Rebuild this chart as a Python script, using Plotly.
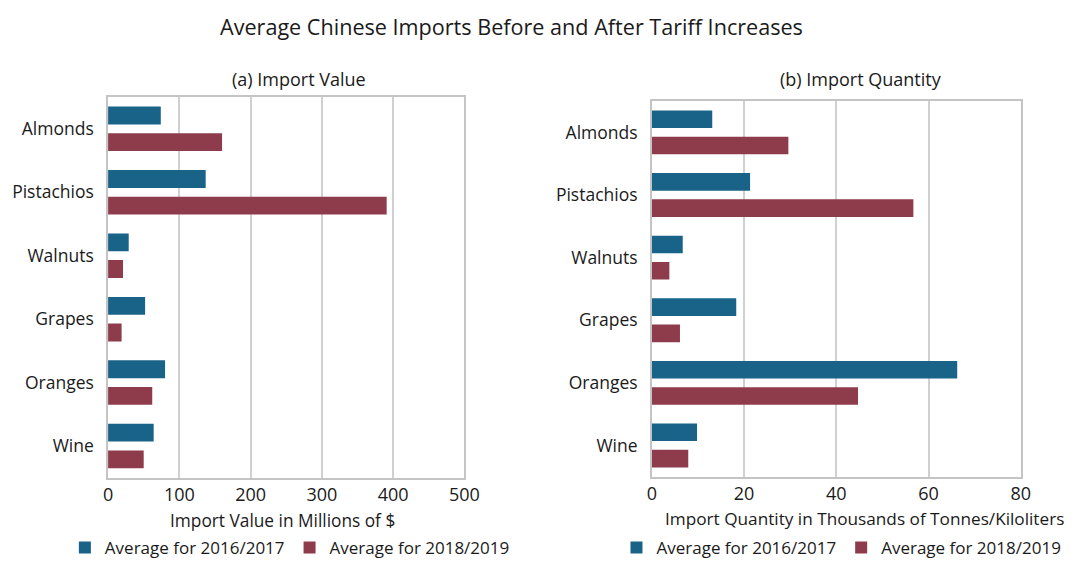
import plotly.graph_objects as go

# Commodity categories (top to bottom)
categories = ["Almonds", "Pistachios", "Walnuts", "Grapes", "Oranges", "Wine"]

# (a) Import value, millions of US dollars
value_2016_2017 = [74, 137, 29, 52, 80, 64]
value_2018_2019 = [160, 391, 21, 19, 62, 50]

# (b) Import quantity, thousands of tonnes / kiloliters
qty_2016_2017 = [13.1, 21.3, 6.7, 18.3, 66.2, 9.8]
qty_2018_2019 = [29.6, 56.7, 3.8, 6.1, 44.7, 7.9]

series_names = ["Average for 2016/2017", "Average for 2018/2019"]
value_ticks = [0, 100, 200, 300, 400, 500]
qty_ticks = [0, 20, 40, 60, 80]

BLUE = "#1a6388"
RED = "#8e3b4c"
GRID = "#d0d0d0"
TEXT = "#1a1a1a"
FONT = "Open Sans"

W, H = 1082, 566


def px_x(x):
    return x / W


def px_y(y):
    return 1 - y / H


fig = go.Figure()

# Left panel: import value
fig.add_trace(go.Bar(y=categories, x=value_2016_2017, orientation="h", name=series_names[0],
                     marker=dict(color=BLUE, line=dict(width=0)), xaxis="x", yaxis="y", legend="legend"))
fig.add_trace(go.Bar(y=categories, x=value_2018_2019, orientation="h", name=series_names[1],
                     marker=dict(color=RED, line=dict(width=0)), xaxis="x", yaxis="y", legend="legend"))

# Right panel: import quantity
fig.add_trace(go.Bar(y=categories, x=qty_2016_2017, orientation="h", name=series_names[0],
                     marker=dict(color=BLUE, line=dict(width=0)), xaxis="x2", yaxis="y2", legend="legend2"))
fig.add_trace(go.Bar(y=categories, x=qty_2018_2019, orientation="h", name=series_names[1],
                     marker=dict(color=RED, line=dict(width=0)), xaxis="x2", yaxis="y2", legend="legend2"))

xaxis_common = dict(
    showgrid=True, gridcolor=GRID, gridwidth=1.5,
    showline=True, linecolor="#c4c4c4", linewidth=1.5, mirror=True,
    zeroline=False, ticks="", ticklabelstandoff=0,
    tickfont=dict(family=FONT, size=18, color=TEXT),
    fixedrange=True,
)
yaxis_common = dict(
    type="category", categoryorder="array", categoryarray=categories,
    autorange="reversed", showgrid=False,
    showline=True, linecolor="#c4c4c4", linewidth=1.5, mirror=True,
    ticks="", ticklabelstandoff=9,
    tickfont=dict(family=FONT, size=17.5, color=TEXT),
    fixedrange=True,
)

legend_common = dict(
    orientation="h", yanchor="middle", xanchor="left",
    font=dict(family=FONT, size=17, color=TEXT),
    bgcolor="rgba(0,0,0,0)", itemwidth=30, tracegroupgap=0,
    itemclick=False, itemdoubleclick=False,
)

fig.update_layout(
    width=W, height=H,
    margin=dict(l=0, r=0, t=0, b=0),
    paper_bgcolor="white", plot_bgcolor="white",
    barmode="group", bargap=0.16, bargroupgap=0.33,
    font=dict(family=FONT, color=TEXT),
    showlegend=True,
    xaxis=dict(xaxis_common, domain=[px_x(105), px_x(468)], range=[0, 500],
               tickvals=value_ticks, anchor="y"),
    yaxis=dict(yaxis_common, domain=[px_y(482), px_y(98)], anchor="x"),
    xaxis2=dict(xaxis_common, domain=[px_x(659), px_x(1035)], range=[0, 80],
                tickvals=qty_ticks, anchor="y2"),
    yaxis2=dict(yaxis_common, domain=[px_y(481), px_y(102)], anchor="x2"),
    legend=dict(legend_common, x=px_x(61), y=px_y(553)),
    legend2=dict(legend_common, x=px_x(623), y=px_y(553)),
)

annotations = [
    dict(text="Average Chinese Imports Before and After Tariff Increases",
         x=px_x(516), y=px_y(27), size=21.6),
    dict(text="(a) Import Value", x=px_x(300), y=px_y(80), size=18),
    dict(text="(b) Import Quantity", x=px_x(872), y=px_y(80), size=18),
    dict(text="Import Value in Millions of $", x=px_x(283), y=px_y(525), size=17.3),
    dict(text="Import Quantity in Thousands of Tonnes/Kiloliters", x=px_x(876), y=px_y(523), size=17.2),
]
for a in annotations:
    fig.add_annotation(text=a["text"], x=a["x"], y=a["y"], xref="paper", yref="paper",
                       xanchor="center", yanchor="middle", showarrow=False,
                       font=dict(family=FONT, size=a["size"], color=TEXT))

fig.write_html("out.html")
